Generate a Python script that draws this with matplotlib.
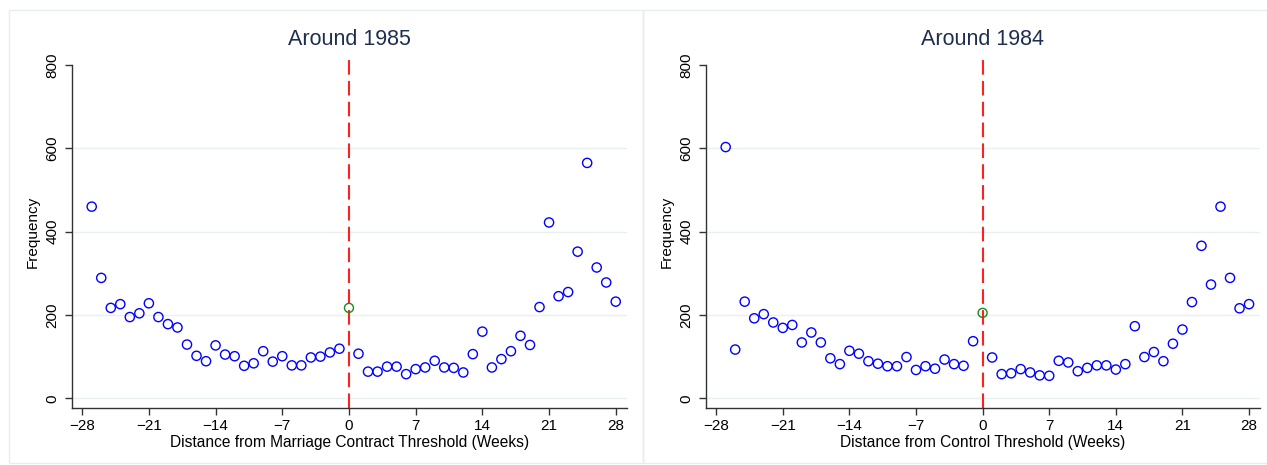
import matplotlib
matplotlib.use("Agg")
import matplotlib.pyplot as plt
from matplotlib.patches import Rectangle

# weeks relative to the threshold
weeks = list(range(-27, 29))

freq_1985 = [460, 289, 217, 226, 195, 204, 228, 195, 178, 170,
             129, 102, 89, 127, 105, 101, 78, 84, 113, 88,
             101, 79, 79, 98, 100, 110, 119, 217,
             107, 64, 64, 76, 76, 58, 70, 74, 90, 74,
             73, 62, 106, 160, 74, 94, 113, 150, 128, 219,
             422, 245, 255, 352, 565, 314, 278, 232]

freq_1984 = [603, 117, 232, 192, 202, 182, 169, 176, 134, 158,
             134, 96, 82, 114, 107, 89, 83, 77, 77, 99,
             68, 77, 71, 93, 82, 78, 137, 205,
             98, 58, 60, 70, 62, 55, 54, 90, 86, 65,
             73, 79, 79, 69, 82, 173, 99, 111, 89, 131,
             165, 231, 366, 273, 460, 289, 216, 226]

titles = ["Around 1985", "Around 1984"]
xlabels = ["Distance from Marriage Contract Threshold (Weeks)",
           "Distance from Control Threshold (Weeks)"]
xticks = [-28, -21, -14, -7, 0, 7, 14, 21, 28]
yticks = [0, 200, 400, 600, 800]

plt.rcParams['font.family'] = ['Liberation Sans', 'DejaVu Sans']

W, H = 1267, 465
fig = plt.figure(figsize=(W / 100, H / 100), dpi=100)

# light panel outlines like the combined Stata graph
for x0, x1 in [(9, 643), (643, 1266.5)]:
    fig.patches.append(Rectangle((x0 / W, 1 - 463 / H), (x1 - x0) / W, 453 / H,
                                 transform=fig.transFigure, fill=False,
                                 edgecolor='#e6eeee', lw=1))

panels = [(71.7, 626.7, freq_1985), (705.7, 1260, freq_1984)]
ylo, yhi = -23.3, 824

for i, (px0, px1, freq) in enumerate(panels):
    ax = fig.add_axes([px0 / W, 1 - 408 / H, (px1 - px0) / W, (408 - 55) / H])
    ax.set_xlim(-29.1, 29.15)
    ax.set_ylim(ylo, yhi)
    for s in ['top', 'right']:
        ax.spines[s].set_visible(False)
    ax.spines['left'].set_bounds(ylo, 800)
    for s in ['left', 'bottom']:
        ax.spines[s].set_color('#333333')
        ax.spines[s].set_linewidth(1)

    for g in [0, 200, 400, 600]:
        ax.axhline(g, color='#e8f0f0', lw=1, zorder=0)

    other = [(w, f) for w, f in zip(weeks, freq) if w != 0]
    ax.scatter([w for w, f in other], [f for w, f in other], s=44,
               facecolors='none', edgecolors='#0000ff', linewidths=1, zorder=3)
    ax.scatter([0], [freq[weeks.index(0)]], s=42, facecolors='none',
               edgecolors='#1a8a1a', linewidths=1, zorder=4)
    ax.axvline(0, color='#ff2020', lw=1.5, dashes=(7, 3), zorder=2)

    ax.set_xticks(xticks)
    ax.set_xticklabels([str(t).replace('-', '\u2212') for t in xticks])
    ax.set_yticks(yticks)
    ax.set_yticklabels([str(t) for t in yticks], rotation=90, va='center')
    ax.tick_params(axis='both', length=5, width=1, color='#333333',
                   labelsize=11, pad=3)
    ax.tick_params(axis='y', pad=4)

    ax.set_title(titles[i], fontsize=15.5, color='#1f2d50', pad=7)
    ax.set_xlabel(xlabels[i], fontsize=11.2, labelpad=1)
    ax.set_ylabel("Frequency", fontsize=11, labelpad=4)

fig.savefig("out.png", dpi=100, facecolor='white')
